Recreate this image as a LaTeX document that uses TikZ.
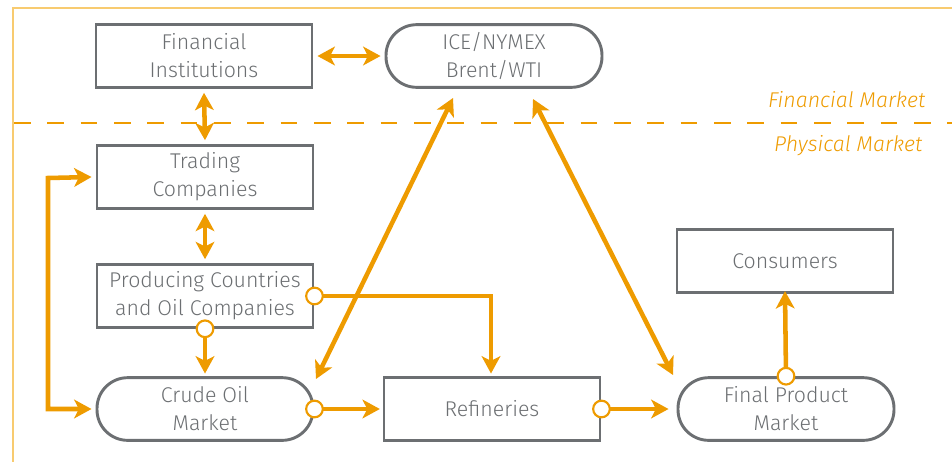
\documentclass[tikz,border=0pt]{standalone}
\usepackage{fontspec}
\setmainfont{Fira Sans}[UprightFont=* Light, ItalicFont=* Light Italic]
\usetikzlibrary{arrows.meta}
\definecolor{og}{HTML}{EE9B00}
\definecolor{frame}{HTML}{F8CB70}
\definecolor{bx}{HTML}{6C6F72}
\tikzset{
  x=0.75pt, y=-0.75pt,
  box/.style={draw=bx, line width=2.2pt, minimum width=162pt, minimum height=47pt, align=center, text=bx, font=\fontsize{16}{21}\selectfont, fill=white, inner sep=0pt},
  rbox/.style={box, rounded corners=23pt},
  flow/.style={draw=og, line width=3.4pt, -{Stealth[length=13pt, width=14pt, inset=3.5pt]}},
  bflow/.style={flow, {Stealth[length=13pt, width=14pt, inset=3.5pt]}-{Stealth[length=13pt, width=14pt, inset=3.5pt]}},
  dot/.style={circle, draw=og, fill=white, line width=1.6pt, minimum size=12.5pt, inner sep=0pt},
  mlabel/.style={text=og, font=\fontsize{16}{19}\selectfont\itshape, anchor=east}
}
\begin{document}
\begin{tikzpicture}
\useasboundingbox (0,0) rectangle (952,461);
\draw[frame, line width=2pt] (13,470) -- (13,8) -- (960,8);
\draw[og, line width=2.2pt, dash pattern=on 12.5pt off 12.5pt] (14,123) -- (952,123);
\node[mlabel] (fm) at (930,100) {Financial Market};
\node[mlabel] (pm) at (927,146) {Physical Market};

\node[box] (fi) at (204,56) {Financial\\Institutions};
\node[rbox] (ice) at (494,56) {ICE/NYMEX\\Brent/WTI};
\node[box] (tc) at (205,177) {Trading\\Companies};
\node[box] (pc) at (205,296) {Producing Countries\\and Oil Companies};
\node[rbox] (co) at (205,409) {Crude Oil\\Market};
\node[box] (rf) at (492,409) {Refineries};
\node[rbox] (fp) at (786,409) {Final Product\\Market};
\node[box] (cs) at (785,261) {Consumers};

\coordinate (l1) at (48,178);
\coordinate (l2) at (48,409);
\coordinate (pr) at (491,296);

\draw[bflow] ([xshift=3pt]fi.east) -- ([xshift=-3pt]ice.west);
\draw[bflow] ([yshift=-3pt]fi.south) -- ([yshift=3pt]tc.north);
\draw[bflow] ([yshift=-3pt]tc.south) -- ([yshift=3pt]pc.north);
\draw[bflow] ([xshift=-3pt]tc.west) -- (l1) -- (l2) -- ([xshift=-3pt]co.west);
\draw[bflow] (453,98) -- (316,379);
\draw[bflow] (533,99) -- (673,375);

\draw[flow] (pc.south) -- ([yshift=2pt]co.north);
\draw[flow] (pc.east |- pr) -- (pr) -- ([yshift=2pt]rf.north -| pr);
\draw[flow] (co.east) -- ([xshift=-2pt]rf.west);
\draw[flow] (rf.east) -- ([xshift=-6pt]fp.west);
\draw[flow] (fp.north) -- ([yshift=2pt]cs.south);

\node[dot] (d1) at (pc.south) {};
\node[dot] (d2) at (pc.east |- pr) {};
\node[dot] (d3) at (co.east) {};
\node[dot] (d4) at (rf.east) {};
\node[dot] (d5) at (fp.north) {};
\end{tikzpicture}
\end{document}
